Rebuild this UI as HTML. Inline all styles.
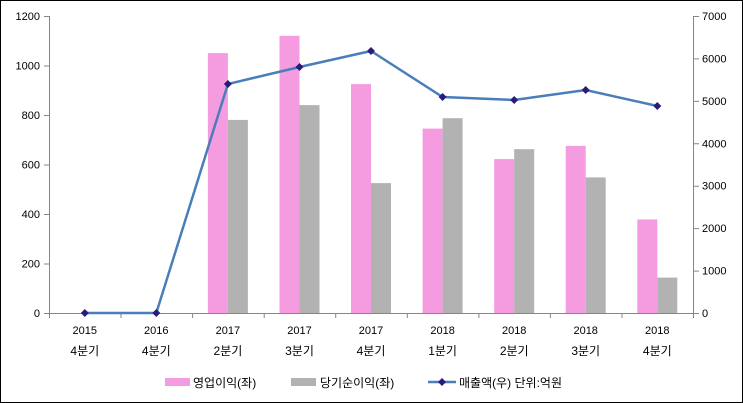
<!DOCTYPE html>
<html><head><meta charset="utf-8"><style>
body{margin:0;background:#fff}
svg{display:block}
text{font-family:"Liberation Sans","Noto Sans CJK KR",sans-serif;font-size:11px;fill:#000}
.k{font-size:12px}
</style></head><body>
<svg width="743" height="403" viewBox="0 0 743 403">
<rect x="0.5" y="0.5" width="742" height="402" fill="#fff" stroke="#000"/>
<g stroke="#868686" stroke-width="1" fill="none">
<line x1="49.5" y1="16" x2="49.5" y2="313"/>
<line x1="693.5" y1="16" x2="693.5" y2="313"/>
<line x1="49" y1="313.5" x2="694" y2="313.5"/>
<path d="M44 16.5h5M44 66h5M44 115.5h5M44 165h5M44 214.5h5M44 264h5M44 313.5h5"/>
<path d="M694 16.5h5M694 58.9h5M694 101.4h5M694 143.8h5M694 186.2h5M694 228.6h5M694 271.1h5M694 313.5h5"/>
<path d="M49.5 313v5M121 313v5M192.6 313v5M264.2 313v5M335.7 313v5M407.3 313v5M478.9 313v5M550.4 313v5M622 313v5M693.5 313v5"/>
</g>
<g text-anchor="end">
<text x="40" y="20">1200</text><text x="40" y="69.5">1000</text><text x="40" y="119">800</text><text x="40" y="168.5">600</text><text x="40" y="218">400</text><text x="40" y="267.5">200</text><text x="40" y="317">0</text>
</g>
<g text-anchor="start">
<text x="702" y="20">7000</text><text x="702" y="62.4">6000</text><text x="702" y="104.9">5000</text><text x="702" y="147.3">4000</text><text x="702" y="189.7">3000</text><text x="702" y="232.1">2000</text><text x="702" y="274.6">1000</text><text x="702" y="317">0</text>
</g>
<g fill="#F59BE0">
<rect x="207.9" y="53.1" width="20" height="259.9"/>
<rect x="279.5" y="35.8" width="20" height="277.2"/>
<rect x="351" y="84.1" width="20" height="228.9"/>
<rect x="422.6" y="128.6" width="20" height="184.4"/>
<rect x="494.2" y="159.1" width="20" height="153.9"/>
<rect x="565.7" y="145.9" width="20" height="167.1"/>
<rect x="637.3" y="219.4" width="20" height="93.6"/>
</g>
<g fill="#B2B2B2">
<rect x="227.9" y="119.9" width="20" height="193.1"/>
<rect x="299.5" y="105.1" width="20" height="207.9"/>
<rect x="371" y="183.1" width="20" height="129.9"/>
<rect x="442.6" y="118.2" width="20" height="194.8"/>
<rect x="514.2" y="149.2" width="20" height="163.8"/>
<rect x="585.7" y="177.4" width="20" height="135.6"/>
<rect x="657.3" y="277.6" width="20" height="35.4"/>
</g>
<polyline fill="none" stroke="#4A7EBB" stroke-width="2.5" points="84.8,313 156.3,313 227.9,84 299.5,67 371,51 442.6,97 514.2,100 585.7,90 657.3,106"/>
<g fill="#2A1B7A">
<path d="M84.8 309l4 4-4 4-4-4z"/><path d="M156.3 309l4 4-4 4-4-4z"/><path d="M227.9 80l4 4-4 4-4-4z"/><path d="M299.5 63l4 4-4 4-4-4z"/><path d="M371 47l4 4-4 4-4-4z"/><path d="M442.6 93l4 4-4 4-4-4z"/><path d="M514.2 96l4 4-4 4-4-4z"/><path d="M585.7 86l4 4-4 4-4-4z"/><path d="M657.3 102l4 4-4 4-4-4z"/>
</g>
<g text-anchor="middle">
<text x="84.8" y="334">2015</text><text x="156.3" y="334">2016</text><text x="227.9" y="334">2017</text><text x="299.5" y="334">2017</text><text x="371" y="334">2017</text><text x="442.6" y="334">2018</text><text x="514.2" y="334">2018</text><text x="585.7" y="334">2018</text><text x="657.3" y="334">2018</text>
<text class="k" x="84.8" y="355">4분기</text><text class="k" x="156.3" y="355">4분기</text><text class="k" x="227.9" y="355">2분기</text><text class="k" x="299.5" y="355">3분기</text><text class="k" x="371" y="355">4분기</text><text class="k" x="442.6" y="355">1분기</text><text class="k" x="514.2" y="355">2분기</text><text class="k" x="585.7" y="355">3분기</text><text class="k" x="657.3" y="355">4분기</text>
</g>
<rect x="165" y="378" width="25" height="8" fill="#F59BE0"/>
<text class="k" x="193" y="387">영업이익(좌)</text>
<rect x="291" y="378" width="25" height="8" fill="#B2B2B2"/>
<text class="k" x="320" y="387">당기순이익(좌)</text>
<line x1="428" y1="382" x2="456" y2="382" stroke="#4A7EBB" stroke-width="2.5"/>
<path d="M442 378l4 4-4 4-4-4z" fill="#2A1B7A"/>
<text class="k" x="459" y="387">매출액(우)  단위:억원</text>
</svg>
</body></html>
